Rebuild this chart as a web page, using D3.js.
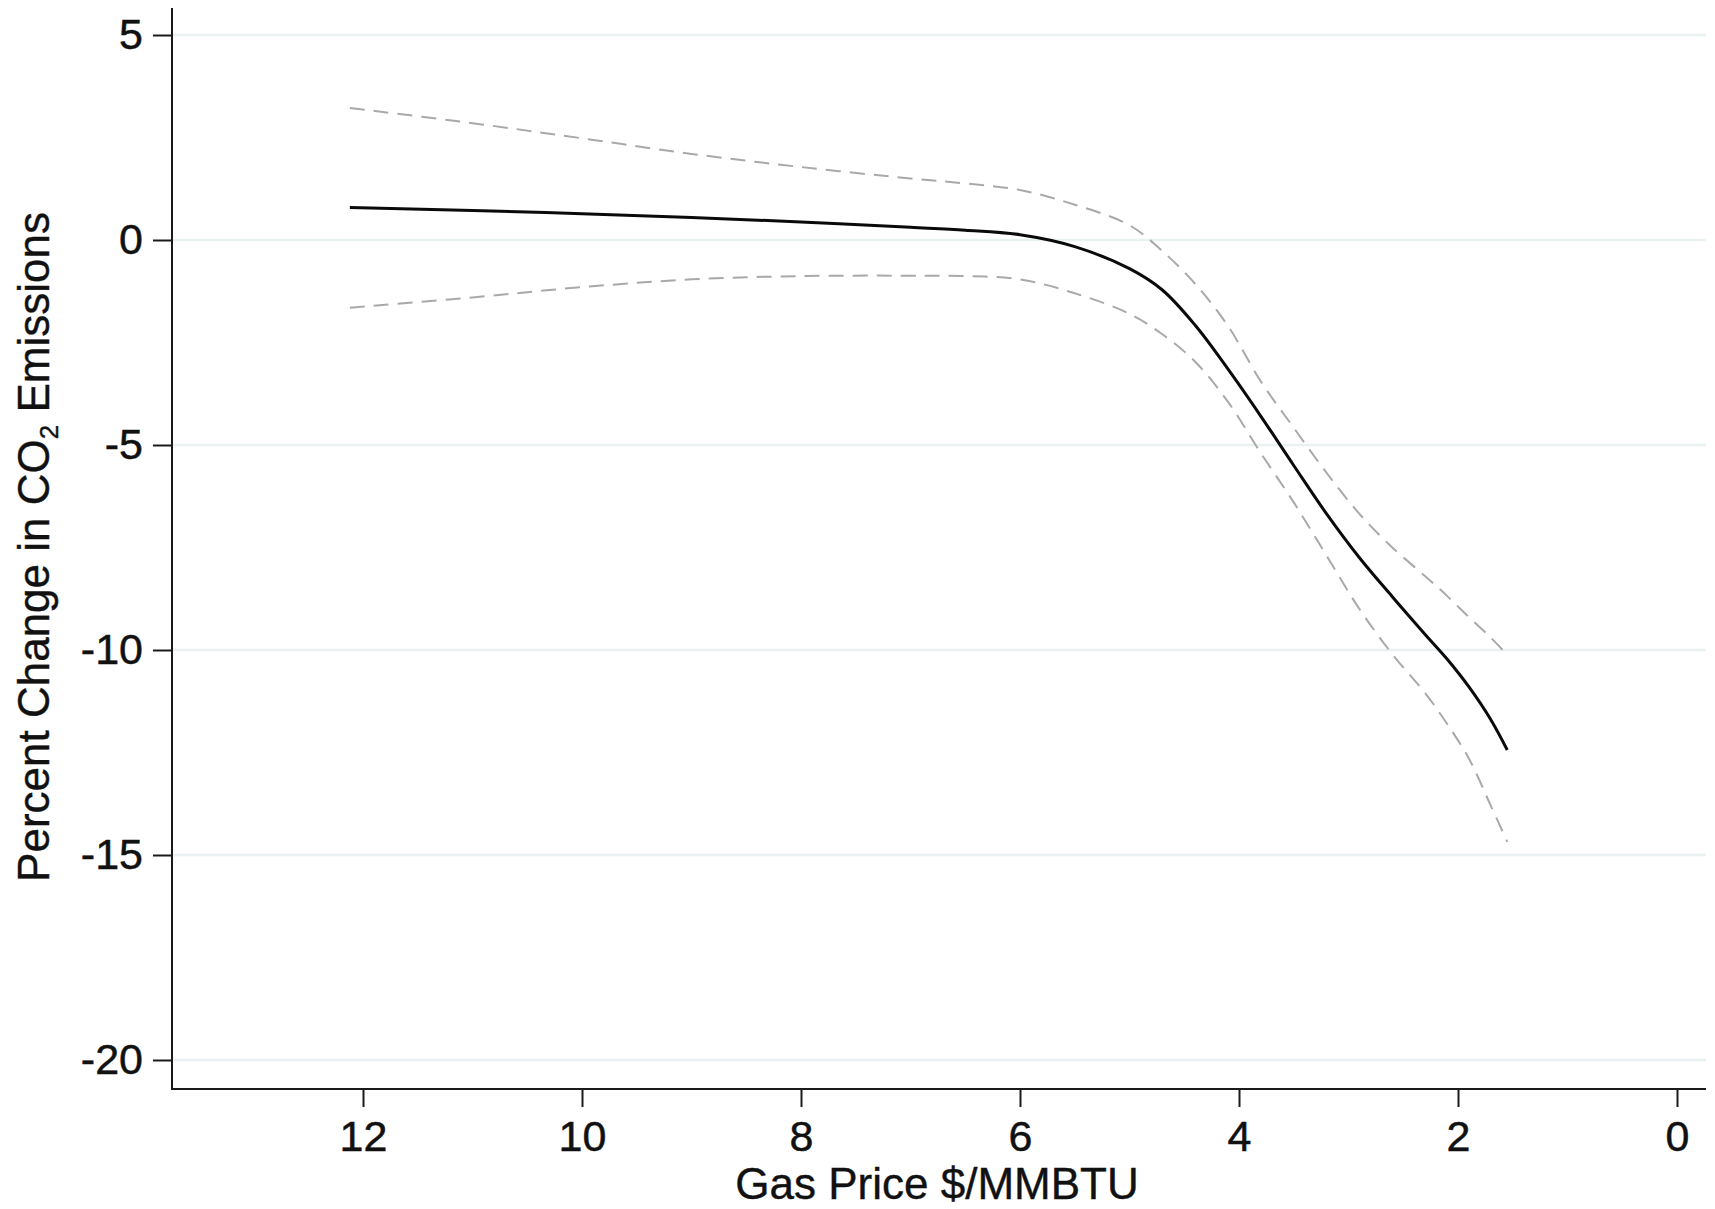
<!DOCTYPE html>
<html>
<head>
<meta charset="utf-8">
<script src="https://cdn.jsdelivr.net/npm/d3@7"></script>
<style>
  html, body { margin: 0; padding: 0; background: #fff; }
  svg { display: block; }
  text { font-family: "Liberation Sans", Arial, Helvetica, sans-serif; fill: #111; }
</style>
</head>
<body>
<svg id="chart" width="1715" height="1209"></svg>
<script>
// Gas price ($/MMBTU) at which each estimate is evaluated
const price = [12.12, 11, 10, 9, 8, 7, 6.5, 6, 5.5, 5, 4.7, 4.4, 4.1, 3.8, 3.5, 3.2, 2.9, 2.6, 2.3, 2.1, 1.9, 1.7, 1.55];
// Estimated percent change in CO2 emissions
const estimate = [0.79, 0.72, 0.64, 0.55, 0.44, 0.31, 0.24, 0.13, -0.16, -0.70, -1.22, -2.08, -3.15, -4.3, -5.5, -6.68, -7.75, -8.7, -9.62, -10.22, -10.9, -11.7, -12.44];
// Upper confidence bound
const upper = [3.22, 2.85, 2.48, 2.1, 1.78, 1.5, 1.38, 1.22, 0.86, 0.36, -0.27, -1.07, -2.1, -3.45, -4.58, -5.68, -6.68, -7.5, -8.2, -8.68, -9.2, -9.7, -10.12];
// Lower confidence bound
const lower = [-1.65, -1.4, -1.15, -0.96, -0.88, -0.87, -0.88, -0.96, -1.3, -1.8, -2.3, -2.97, -3.95, -5.2, -6.4, -7.7, -9.0, -10.1, -11.05, -11.8, -12.65, -13.8, -14.68];

const xTicks = [12, 10, 8, 6, 4, 2, 0];
const yTicks = [5, 0, -5, -10, -15, -20];

const svg = d3.select("#chart");

// Plot frame
const frame = { left: 172, right: 1706, top: 8, bottom: 1089 };

// Price axis runs from high (left) to low (right)
const x = d3.scaleLinear().domain([12, 0]).range([363, 1677]);
const y = d3.scaleLinear().domain([5, -20]).range([35, 1060]);

// Horizontal grid lines
svg.append("g").selectAll("line")
  .data(yTicks)
  .join("line")
  .attr("x1", frame.left + 1)
  .attr("x2", frame.right)
  .attr("y1", d => y(d))
  .attr("y2", d => y(d))
  .attr("stroke", "#e9f1f3")
  .attr("stroke-width", 2.5);

// Axis lines
svg.append("line")
  .attr("x1", frame.left).attr("x2", frame.left)
  .attr("y1", frame.top).attr("y2", frame.bottom + 1)
  .attr("stroke", "#1a1a1a").attr("stroke-width", 2);
svg.append("line")
  .attr("x1", frame.left - 1).attr("x2", frame.right)
  .attr("y1", frame.bottom).attr("y2", frame.bottom)
  .attr("stroke", "#1a1a1a").attr("stroke-width", 2);

// Y axis ticks and labels
const yAxis = d3.axisLeft(y).tickValues(yTicks).tickSize(19).tickPadding(10).tickFormat(d3.format("d"));
const gy = svg.append("g").attr("transform", `translate(${frame.left},0)`).call(yAxis);
gy.select(".domain").remove();
gy.selectAll(".tick line").attr("stroke", "#1a1a1a").attr("stroke-width", 2);
gy.selectAll(".tick text")
  .attr("font-size", 43)
  .attr("font-family", "Liberation Sans, Arial, sans-serif")
  .attr("fill", "#111")
  .attr("stroke", "#111")
  .attr("stroke-width", 0.5)
  .text(d => d < 0 ? "-" + Math.abs(d) : d);

// X axis ticks and labels
const xAxis = d3.axisBottom(x).tickValues(xTicks).tickSize(18).tickPadding(13).tickFormat(d3.format("d"));
const gx = svg.append("g").attr("transform", `translate(0,${frame.bottom})`).call(xAxis);
gx.select(".domain").remove();
gx.selectAll(".tick line").attr("stroke", "#1a1a1a").attr("stroke-width", 2);
gx.selectAll(".tick text")
  .attr("font-size", 43)
  .attr("font-family", "Liberation Sans, Arial, sans-serif")
  .attr("fill", "#111")
  .attr("stroke", "#111")
  .attr("stroke-width", 0.5);

// Curves
const line = (vals) => d3.line()
  .x((d, i) => x(price[i]))
  .y(d => y(d))
  .curve(d3.curveCatmullRom.alpha(0.5))(vals);

svg.append("path")
  .attr("d", line(upper))
  .attr("fill", "none")
  .attr("stroke", "#a9a9a9")
  .attr("stroke-width", 2)
  .attr("stroke-dasharray", "15,9");

svg.append("path")
  .attr("d", line(lower))
  .attr("fill", "none")
  .attr("stroke", "#a9a9a9")
  .attr("stroke-width", 2)
  .attr("stroke-dasharray", "15,9");

svg.append("path")
  .attr("d", line(estimate))
  .attr("fill", "none")
  .attr("stroke", "#0a0a0a")
  .attr("stroke-width", 3);

// Axis titles
svg.append("text")
  .attr("x", 937)
  .attr("y", 1199)
  .attr("text-anchor", "middle")
  .attr("font-size", 44)
  .attr("stroke", "#111")
  .attr("stroke-width", 0.4)
  .text("Gas Price $/MMBTU");

const yTitle = svg.append("text")
  .attr("transform", "translate(49,547) rotate(-90)")
  .attr("text-anchor", "middle")
  .attr("font-size", 44)
  .attr("stroke", "#111")
  .attr("stroke-width", 0.4);
yTitle.append("tspan").text("Percent Change in CO");
yTitle.append("tspan").attr("font-size", 26).attr("dy", 9).text("2");
yTitle.append("tspan").attr("dy", -9).text(" Emissions");
</script>
</body>
</html>
